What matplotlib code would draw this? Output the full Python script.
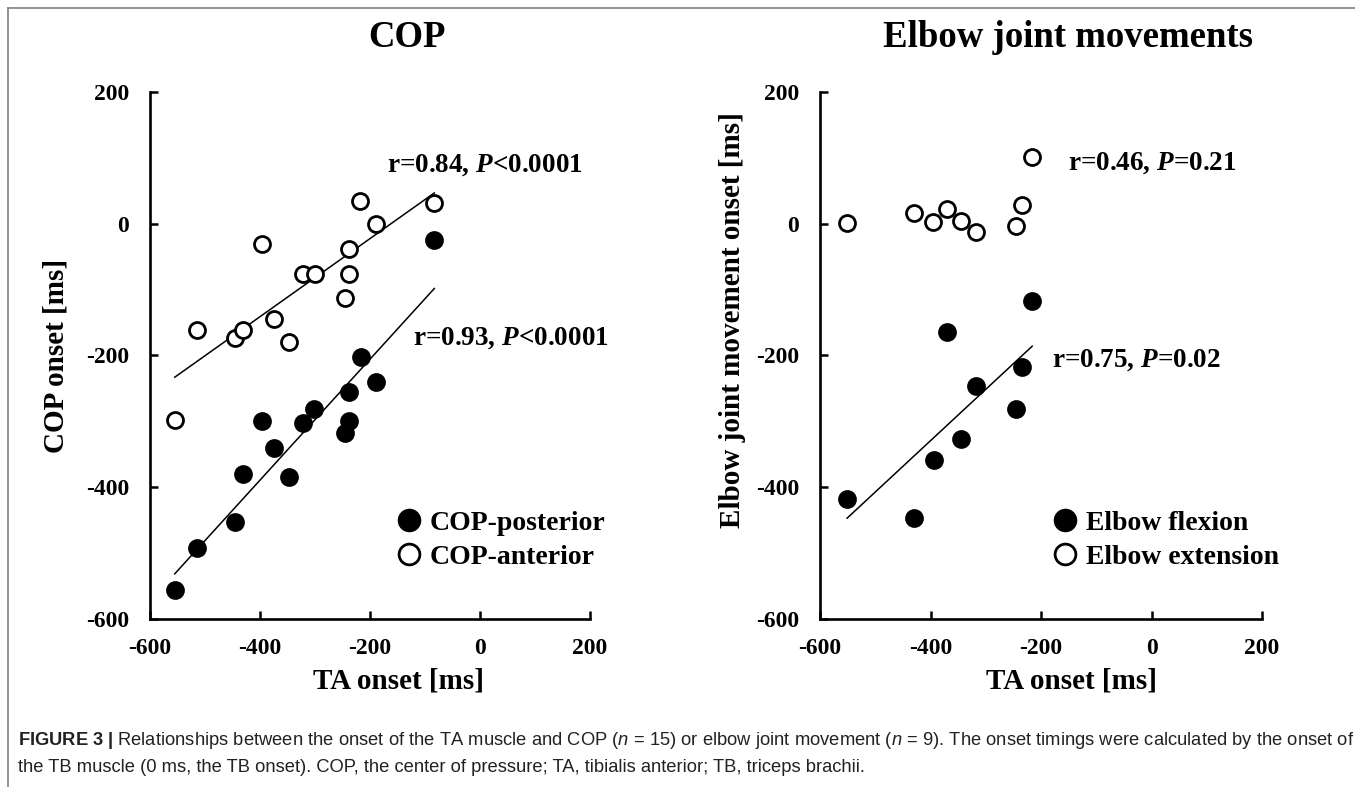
import numpy as np
import matplotlib
matplotlib.use('Agg')
import matplotlib.pyplot as plt
from matplotlib.lines import Line2D

# Fontlar: grafik metni kalin Times benzeri, alt yazi sans
plt.rcParams['font.family'] = 'Liberation Serif'
plt.rcParams['font.weight'] = 'bold'
plt.rcParams['axes.unicode_minus'] = False
plt.rcParams['mathtext.fontset'] = 'custom'
plt.rcParams['mathtext.rm'] = 'Liberation Serif:bold'
plt.rcParams['mathtext.it'] = 'Liberation Serif:italic:bold'
plt.rcParams['mathtext.bf'] = 'Liberation Sans:bold'
plt.rcParams['mathtext.sf'] = 'Liberation Sans:style=italic:weight=normal'

# COP paneli verileri (TA onset, COP onset) [ms]
cop_post_ta = [-555, -515, -445, -430, -397, -375, -347, -321, -302, -246, -239, -238, -217, -189, -83]
cop_post = [-556, -493, -453, -380, -299, -340, -385, -302, -281, -318, -299, -255, -202, -240, -25]
cop_ant_ta = [-555, -515, -445, -431, -397, -375, -347, -321, -300, -245, -239, -239, -218, -189, -83]
cop_ant = [-298, -161, -173, -162, -30, -145, -179, -77, -77, -113, -77, -38, 35, 0, 31]

# Dirsek paneli verileri
flex_ta = [-551, -430, -394, -371, -344, -318, -245, -235, -216]
flex = [-418, -446, -358, -165, -327, -246, -281, -218, -118]
ext_ta = [-551, -430, -396, -371, -344, -318, -245, -235, -216]
ext = [1, 17, 3, 22, 4, -12, -3, 29, 102]

ticks = [-600, -400, -200, 0, 200]

fig = plt.figure(figsize=(13.55, 7.87), dpi=100)
ax1 = fig.add_axes([0.1107, 0.2135, 0.3247, 0.6696])
ax2 = fig.add_axes([0.6052, 0.2135, 0.3262, 0.6696])


def fit_line(ax, x, y):
    x = np.array(x)
    k, b = np.polyfit(x, y, 1)
    xs = np.array([x.min(), x.max()])
    ax.plot(xs, k * xs + b, color='black', lw=1.1, zorder=2)


def style_axis(ax):
    ax.set_xlim(-600, 200)
    ax.set_ylim(-600, 200)
    ax.set_xticks(ticks)
    ax.set_yticks(ticks)
    for s in ['top', 'right']:
        ax.spines[s].set_visible(False)
    for s in ['left', 'bottom']:
        ax.spines[s].set_linewidth(1.9)
    ax.tick_params(direction='in', length=5.5, width=1.8, labelsize=17)
    ax.tick_params(axis='y', pad=15)
    ax.tick_params(axis='x', pad=14)


mk = dict(marker='o', ms=11.5, mew=2.0, ls='none', zorder=3)
leg = dict(frameon=False, fontsize=20, markerscale=1.3, handlelength=1.0, handletextpad=0.25,
           labelspacing=0.3, borderpad=0, borderaxespad=0, loc='center left')

# COP
ax1.plot(cop_post_ta, cop_post, mfc='black', mec='black', label='COP-posterior', **mk)
ax1.plot(cop_ant_ta, cop_ant, mfc='white', mec='black', label='COP-anterior', **mk)
fit_line(ax1, cop_post_ta, cop_post)
fit_line(ax1, cop_ant_ta, cop_ant)
style_axis(ax1)
ax1.text(-169, 89, r'r=0.84, $\mathit{P}$<0.0001', fontsize=19.5, ha='left', va='center')
ax1.text(-122, -173, r'r=0.93, $\mathit{P}$<0.0001', fontsize=19.5, ha='left', va='center')
ax1.text(0.584, 1.104, 'COP', transform=ax1.transAxes, fontsize=26.5, ha='center', va='center')
ax1.text(0.565, -0.118, 'TA onset [ms]', transform=ax1.transAxes, fontsize=21, ha='center', va='center')
ax1.text(-0.214, 0.5, 'COP onset [ms]', transform=ax1.transAxes, fontsize=21,
         rotation=90, ha='center', va='center')
ax1.legend(bbox_to_anchor=(0.557, 0.15), **leg)

# Dirsek
ax2.plot(flex_ta, flex, mfc='black', mec='black', label='Elbow flexion', **mk)
ax2.plot(ext_ta, ext, mfc='white', mec='black', label='Elbow extension', **mk)
fit_line(ax2, flex_ta, flex)
style_axis(ax2)
ax2.text(-151, 92, r'r=0.46, $\mathit{P}$=0.21', fontsize=19.5, ha='left', va='center')
ax2.text(-180, -207, r'r=0.75, $\mathit{P}$=0.02', fontsize=19.5, ha='left', va='center')
ax2.text(0.561, 1.104, 'Elbow joint movements', transform=ax2.transAxes, fontsize=26.5,
         ha='center', va='center')
ax2.text(0.57, -0.118, 'TA onset [ms]', transform=ax2.transAxes, fontsize=21, ha='center', va='center')
ax2.text(-0.197, 0.567, 'Elbow joint movement onset [ms]', transform=ax2.transAxes, fontsize=21,
         rotation=90, ha='center', va='center')
ax2.legend(bbox_to_anchor=(0.523, 0.15), **leg)

# cerceve cizgileri
fig.add_artist(Line2D([0.0059, 1.0], [0.9898, 0.9898], transform=fig.transFigure, color='#808080', lw=1.2))
fig.add_artist(Line2D([0.0059, 0.0059], [0.0, 0.9898], transform=fig.transFigure, color='#808080', lw=1.2))

# alt yazi
line1 = (r'$\mathbf{FIGURE\ 3\ |}$ Relationships between the onset of the TA muscle and COP '
         r'($\mathsf{n}$ = 15) or elbow joint movement ($\mathsf{n}$ = 9). '
         'The onset timings were calculated by the onset of')
line2 = ('the TB muscle (0 ms, the TB onset). COP, the center of pressure; '
         'TA, tibialis anterior; TB, triceps brachii.')
fig.text(0.0133, 0.0597, line1, family='Liberation Sans', weight='normal', fontsize=13.2,
         color='#222222', ha='left', va='center')
fig.text(0.0133, 0.0254, line2, family='Liberation Sans', weight='normal', fontsize=13.2,
         color='#222222', ha='left', va='center')

fig.savefig('out.png', dpi=100)
